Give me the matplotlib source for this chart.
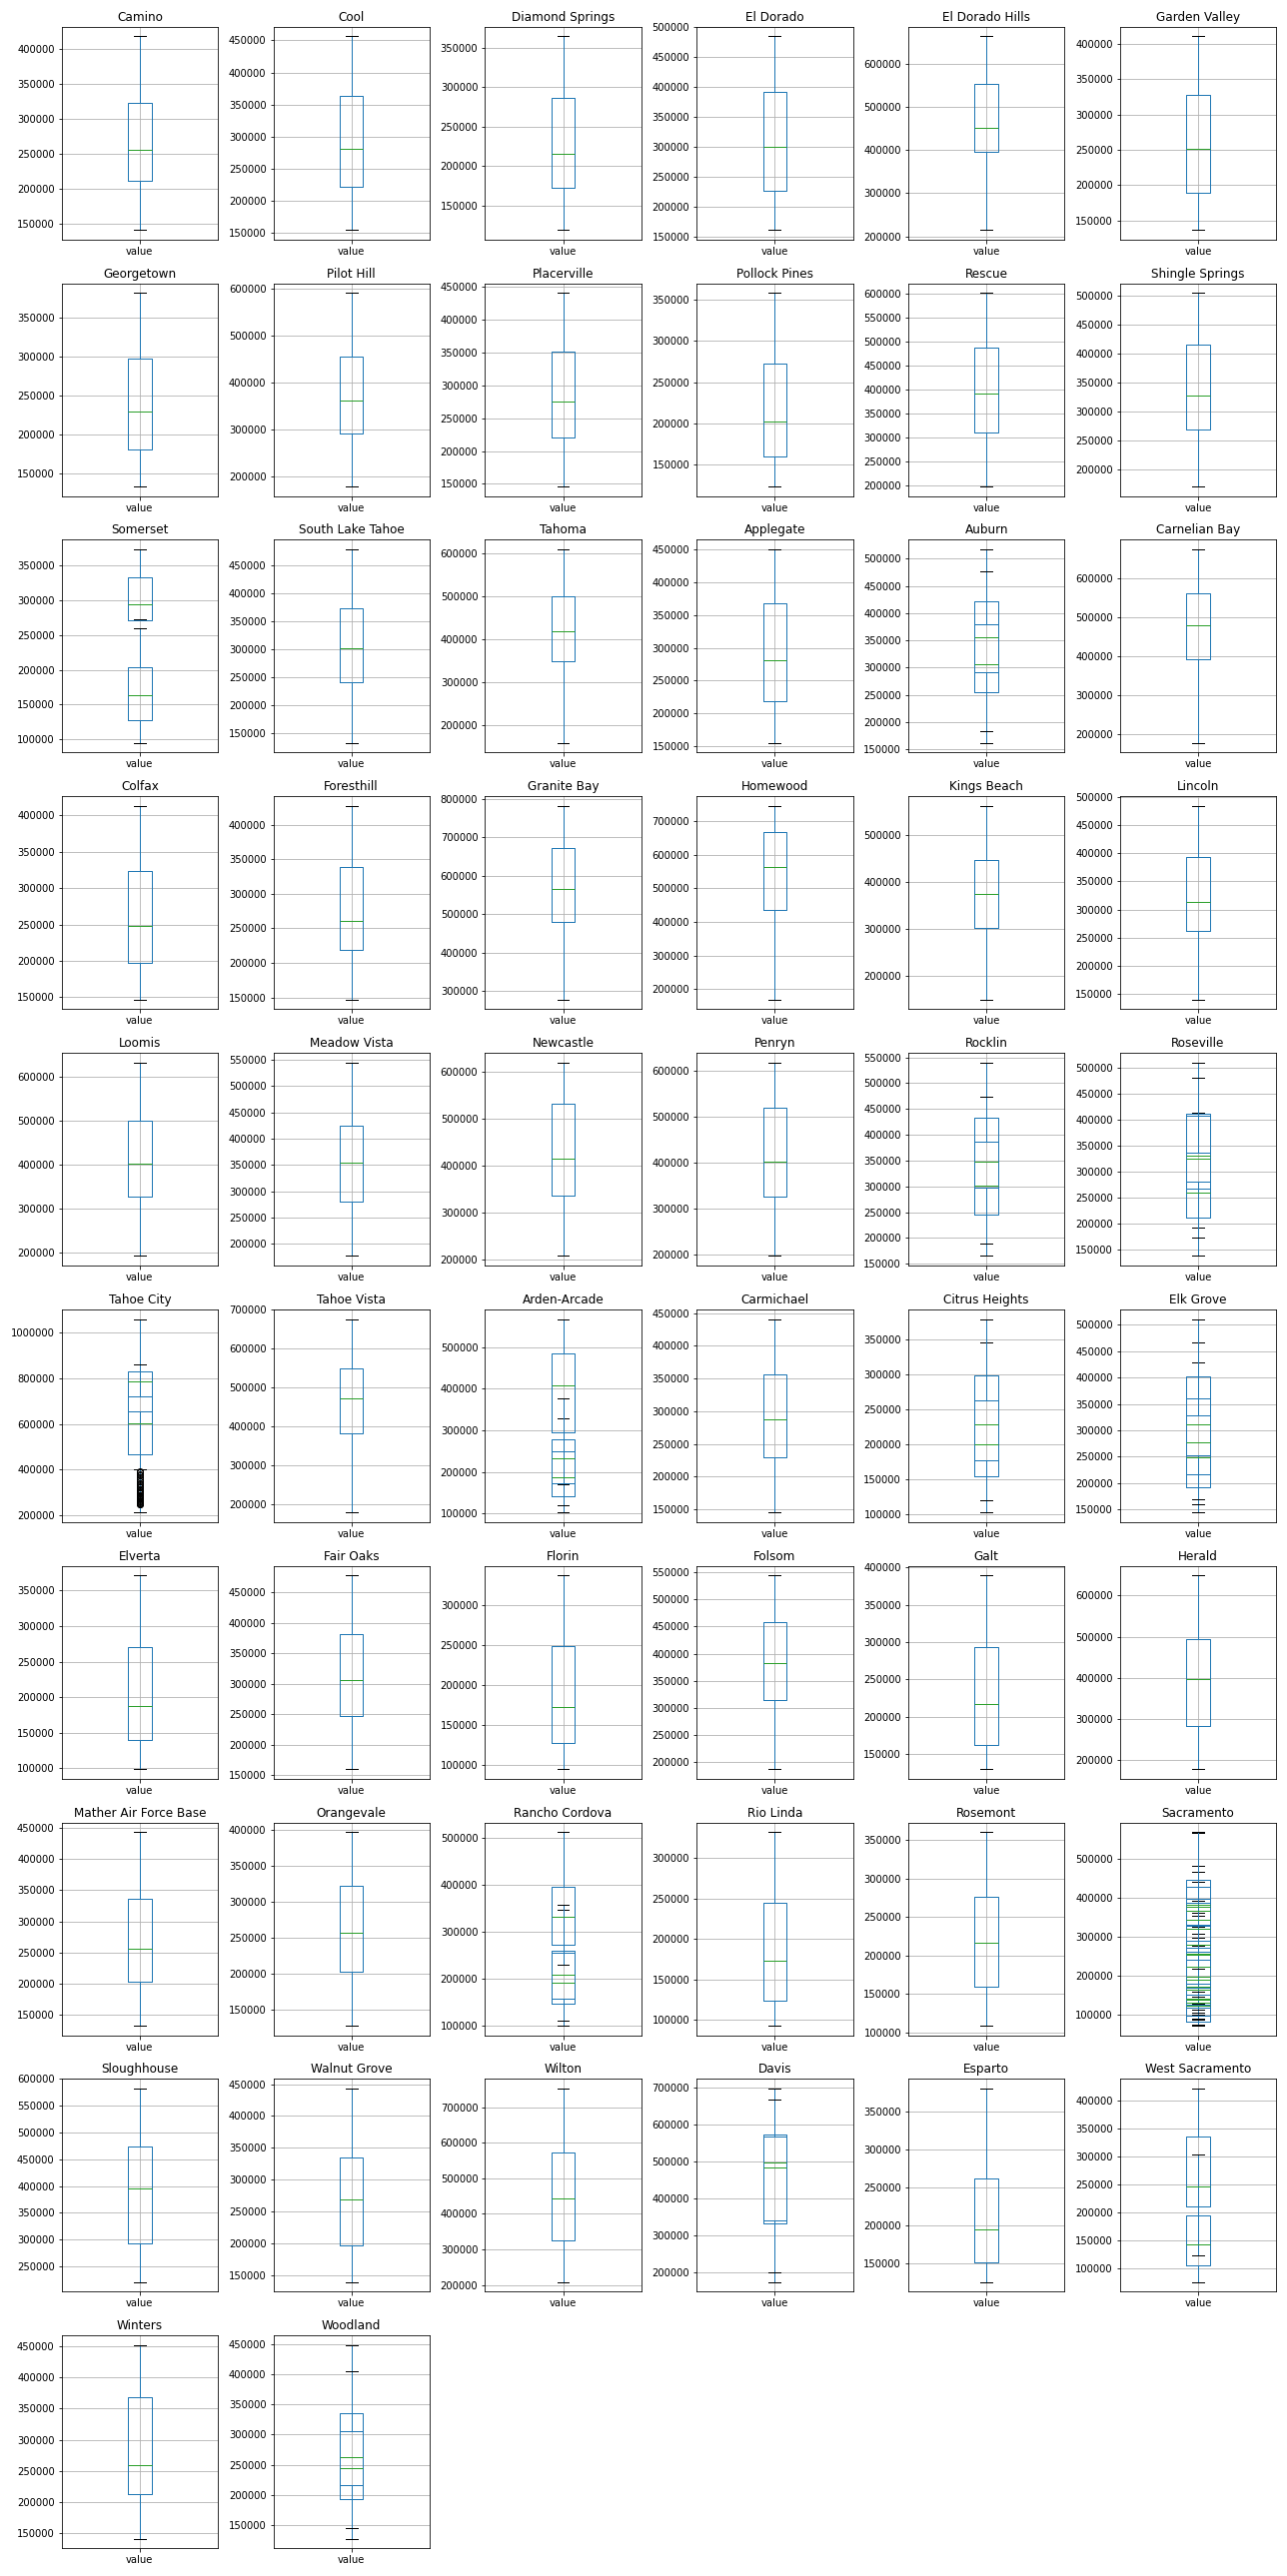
import matplotlib
matplotlib.use("Agg")
import matplotlib.pyplot as plt

# one subplot per city, in grid order
cities = [
    "Camino", "Cool", "Diamond Springs", "El Dorado", "El Dorado Hills", "Garden Valley",
    "Georgetown", "Pilot Hill", "Placerville", "Pollock Pines", "Rescue", "Shingle Springs",
    "Somerset", "South Lake Tahoe", "Tahoma", "Applegate", "Auburn", "Carnelian Bay",
    "Colfax", "Foresthill", "Granite Bay", "Homewood", "Kings Beach", "Lincoln",
    "Loomis", "Meadow Vista", "Newcastle", "Penryn", "Rocklin", "Roseville",
    "Tahoe City", "Tahoe Vista", "Arden-Arcade", "Carmichael", "Citrus Heights", "Elk Grove",
    "Elverta", "Fair Oaks", "Florin", "Folsom", "Galt", "Herald",
    "Mather Air Force Base", "Orangevale", "Rancho Cordova", "Rio Linda", "Rosemont", "Sacramento",
    "Sloughhouse", "Walnut Grove", "Wilton", "Davis", "Esparto", "West Sacramento",
    "Winters", "Woodland",
]

# one entry per box (some cities got several boxes drawn on top of each other)
box_city = [
    "Camino", "Cool", "Diamond Springs", "El Dorado", "El Dorado Hills", "Garden Valley",
    "Georgetown", "Pilot Hill", "Placerville", "Pollock Pines", "Rescue", "Shingle Springs",
    "Somerset", "Somerset", "South Lake Tahoe", "Tahoma", "Applegate", "Auburn", "Auburn", "Carnelian Bay",
    "Colfax", "Foresthill", "Granite Bay", "Homewood", "Kings Beach", "Lincoln",
    "Loomis", "Meadow Vista", "Newcastle", "Penryn", "Rocklin", "Rocklin",
    "Roseville", "Roseville", "Roseville",
    "Tahoe City", "Tahoe City", "Tahoe Vista", "Arden-Arcade", "Arden-Arcade", "Arden-Arcade",
    "Carmichael", "Citrus Heights", "Citrus Heights", "Elk Grove", "Elk Grove", "Elk Grove",
    "Elverta", "Fair Oaks", "Florin", "Folsom", "Galt", "Herald",
    "Mather Air Force Base", "Orangevale", "Rancho Cordova", "Rancho Cordova", "Rancho Cordova",
    "Rio Linda", "Rosemont",
    "Sloughhouse", "Walnut Grove", "Wilton", "Davis", "Davis", "Esparto",
    "West Sacramento", "West Sacramento",
    "Winters", "Woodland", "Woodland",
]

# box statistics, in thousands
whislo_k = [
    141, 155, 119, 162, 215, 137,
    133, 178, 146, 124, 198, 170,
    272, 95, 133, 160, 155, 162, 184, 178,
    147, 147, 278, 170, 150, 140,
    193, 177, 207, 196, 165, 189,
    192, 137, 173,
    213, 403, 179, 102, 120, 170,
    145, 102, 120, 144, 159, 170,
    99, 160, 95, 187, 130, 179,
    133, 128, 100, 110, 230,
    93, 109,
    221, 139, 208, 175, 200, 125,
    76, 124,
    141, 128, 145,
]
q1_k = [
    212, 222, 172, 227, 396, 189,
    181, 291, 221, 160, 310, 269,
    271, 127, 241, 350, 219, 255, 291, 392,
    197, 218, 481, 437, 301, 261,
    328, 280, 335, 326, 246, 297,
    211, 267, 281,
    468, 656, 382, 140, 173, 295,
    229, 154, 177, 192, 217, 253,
    140, 247, 127, 314, 162, 283,
    203, 203, 147, 157, 272,
    124, 160,
    294, 196, 325, 332, 340, 151,
    105, 210,
    213, 193, 217,
]
med_k = [
    256, 281, 215, 300, 451, 252,
    230, 361, 276, 203, 391, 327,
    294, 164, 302, 418, 281, 355, 307, 481,
    248, 260, 566, 564, 374, 313,
    402, 354, 415, 402, 347, 302,
    260, 325, 331,
    604, 787, 472, 187, 233, 407,
    287, 200, 228, 249, 278, 311,
    188, 306, 172, 382, 217, 397,
    256, 257, 192, 209, 332,
    173, 216,
    396, 269, 443, 483, 497, 195,
    144, 247,
    259, 245, 263,
]
q3_k = [
    323, 363, 286, 393, 554, 328,
    297, 455, 352, 272, 488, 415,
    333, 204, 373, 500, 368, 422, 380, 563,
    324, 338, 672, 668, 447, 394,
    500, 425, 532, 519, 434, 386,
    336, 413, 408,
    721, 830, 548, 249, 278, 486,
    357, 263, 298, 329, 361, 402,
    271, 381, 249, 459, 293, 494,
    336, 322, 256, 260, 396,
    245, 276,
    474, 335, 571, 574, 569, 262,
    194, 336,
    369, 336, 305,
]
whishi_k = [
    418, 456, 364, 485, 663, 410,
    382, 591, 441, 358, 602, 505,
    373, 260, 478, 608, 450, 517, 477, 675,
    413, 427, 782, 745, 561, 484,
    632, 545, 620, 617, 540, 473,
    414, 511, 482,
    1060, 860, 676, 328, 378, 568,
    441, 346, 379, 428, 467, 511,
    371, 478, 337, 544, 389, 648,
    443, 397, 348, 357, 513,
    332, 360,
    582, 443, 752, 697, 668, 381,
    304, 421,
    452, 448, 405,
]

# Sacramento: a pile of overlapping boxes
sac_lo = [72, 73, 73, 88, 88, 90, 100, 104, 113, 122, 129, 131, 145, 158, 158, 218, 218]
sac_q1 = [82, 98, 98, 118, 125, 131, 150, 170, 180, 191, 223, 240, 240, 262, 273, 291, 330]
sac_med = [124, 130, 139, 141, 164, 172, 190, 198, 223, 254, 257, 280, 320, 343, 366, 376, 382]
sac_q3 = [150, 170, 180, 191, 222, 240, 240, 262, 291, 320, 329, 387, 397, 429, 429, 429, 446]
sac_hi = [218, 276, 276, 297, 309, 325, 327, 353, 362, 392, 441, 467, 483, 567, 568, 569, 569]

# outliers of the second Tahoe City box
tahoe_city_fliers = [248, 250, 252, 255, 258, 261, 264, 267, 270, 274, 278, 282, 286, 290, 295,
                     300, 305, 310, 316, 322, 328, 335, 342, 350, 358, 366, 374, 381, 388, 395]

box_city = box_city + ["Sacramento"] * len(sac_med)
whislo_k = whislo_k + sac_lo
q1_k = q1_k + sac_q1
med_k = med_k + sac_med
q3_k = q3_k + sac_q3
whishi_k = whishi_k + sac_hi

BLUE = "#1f77b4"
GREEN = "#2ca02c"

fig, axes = plt.subplots(10, 6, figsize=(1288 / 72, 2579 / 72), dpi=72)

for ax, city in zip(axes.flat, cities):
    stats = []
    for i, c in enumerate(box_city):
        if c != city:
            continue
        fl = []
        if city == "Tahoe City" and med_k[i] == 787:
            fl = [v * 1000 for v in tahoe_city_fliers]
        stats.append(dict(whislo=whislo_k[i] * 1000, q1=q1_k[i] * 1000, med=med_k[i] * 1000,
                          q3=q3_k[i] * 1000, whishi=whishi_k[i] * 1000, fliers=fl))
    ax.bxp(stats, positions=[1] * len(stats), widths=0.15, manage_ticks=False,
           boxprops=dict(color=BLUE), whiskerprops=dict(color=BLUE),
           medianprops=dict(color=GREEN), capprops=dict(color="black"),
           flierprops=dict(marker="o", markerfacecolor="none", markeredgecolor="black"))
    ax.set_xlim(0.5, 1.5)
    ax.set_xticks([1])
    ax.set_xticklabels(["value"])
    ax.set_title(city)
    ax.grid(True)
    ax.ticklabel_format(axis="y", style="plain", useOffset=False)

for ax in axes.flat[len(cities):]:
    ax.set_visible(False)

fig.tight_layout()
fig.savefig("out.png", dpi=72)
